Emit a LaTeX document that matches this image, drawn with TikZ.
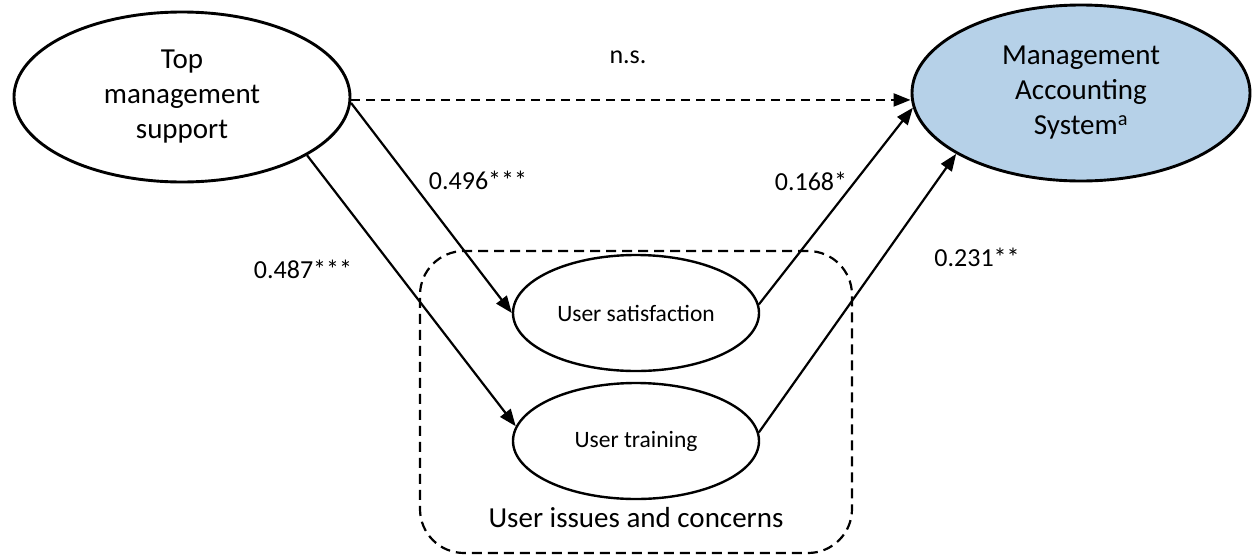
\documentclass[tikz,border=0pt]{standalone}
\usepackage{fontspec}
\setmainfont{Carlito}
\usetikzlibrary{shapes.geometric,arrows.meta}
\definecolor{masblue}{RGB}{182,209,232}
\tikzset{
  bigell/.style={ellipse, draw, line width=2.9pt, inner sep=0pt, align=center,
    font=\fontsize{29}{35}\selectfont},
  smallell/.style={ellipse, draw, line width=2.4pt, inner sep=0pt, align=center,
    minimum width=246pt, minimum height=116pt, font=\fontsize{23.5}{28}\selectfont},
  lbl/.style={inner sep=0pt, font=\fontsize{26}{31}\selectfont},
  conn/.style={line width=2.2pt, -{Triangle[length=17pt,width=13pt]}},
  dashconn/.style={conn, dash pattern=on 9pt off 6pt},
  groupbox/.style={draw, line width=2.2pt, dash pattern=on 10pt off 6pt, rounded corners=44pt,
    minimum width=432pt, minimum height=302pt, inner sep=0pt}
}
\begin{document}
\begin{tikzpicture}[x=1pt,y=-1pt]
\useasboundingbox (0,0) rectangle (1256,555);
\node[groupbox] (box) at (636,402) {};
\node[inner sep=0pt, font=\fontsize{29}{35}\selectfont] (boxlbl) at (636,518) {User issues and concerns};
\node[bigell, minimum width=336pt, minimum height=170pt] (top) at (182,97) {Top\\management\\support};
\node[bigell, fill=masblue, minimum width=338pt, minimum height=176pt] (mas) at (1081,93) {Management\\Accounting\\System\textsuperscript{a}};
\node[smallell] (us) at (636,313) {User satisfaction};
\node[smallell] (ut) at (636,441) {User training};
\draw[dashconn] (top.-1) -- (mas.west |- top.-1);
\draw[conn] (top.-2) -- (us.west);
\draw[conn] (top.-25) -- (ut.173);
\draw[conn] (us.4) -- (mas.185);
\draw[conn] (ut.4) -- (mas.206);
\node[lbl] (ns) at (628,57) {n.s.};
\node[lbl] (l1) at (478,180) {0.496***};
\node[lbl] (l2) at (811,181) {0.168*};
\node[lbl] (l3) at (303,269) {0.487***};
\node[lbl] (l4) at (977,257) {0.231**};
\end{tikzpicture}
\end{document}
